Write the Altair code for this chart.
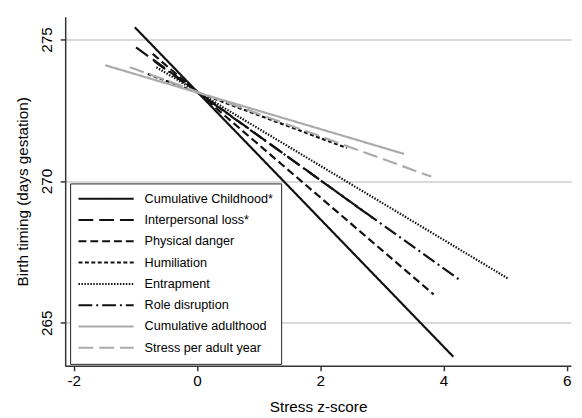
import altair as alt
import pandas as pd

series = ["Cumulative Childhood*", "Interpersonal loss*", "Physical danger", "Humiliation",
          "Entrapment", "Role disruption", "Cumulative adulthood", "Stress per adult year"]
x_start = [-1.01, -0.99, -0.72, -0.80, -0.66, -0.70, -1.49, -1.09]
y_start = [275.43, 274.72, 274.49, 273.78, 274.02, 274.24, 274.09, 274.02]
x_end = [4.16, 2.85, 3.84, 2.43, 5.04, 4.27, 3.36, 3.80]
y_end = [263.80, 268.70, 266.00, 271.17, 266.57, 266.50, 270.96, 270.16]

colors = ["#111111", "#111111", "#111111", "#111111", "#111111", "#111111", "#ababab", "#ababab"]
dashes = [[1, 0], [15, 6], [8, 4], [4, 2.5], [1.5, 1.5], [14, 4, 2, 4], [1, 0], [15, 6]]

rows = []
for i, s in enumerate(series):
    rows.append({"series": s, "order": 0, "x": x_start[i], "y": y_start[i]})
    rows.append({"series": s, "order": 1, "x": x_end[i], "y": y_end[i]})
df = pd.DataFrame(rows)

font = "Liberation Sans"

chart = alt.Chart(df).mark_line(strokeWidth=2.2, clip=True).encode(
    x=alt.X("x:Q", scale=alt.Scale(domain=[-2.14, 6.07], nice=False, zero=False),
            axis=alt.Axis(values=[-2, 0, 2, 4, 6], title="Stress z-score", grid=False,
                          labelExpr="'' + datum.value",
                          labelFontSize=15.5, titleFontSize=15.5, titleFontWeight="normal",
                          labelFont=font, titleFont=font, labelColor="black", titleColor="black",
                          domainColor="#333333", domainWidth=1.5, tickColor="#333333",
                          tickWidth=1.5, tickSize=5, labelPadding=3, titlePadding=11)),
    y=alt.Y("y:Q", scale=alt.Scale(domain=[263.48, 275.8], nice=False, zero=False),
            axis=alt.Axis(values=[265, 270, 275], title="Birth timing (days gestation)",
                          grid=True, gridColor="#d9d9d9", gridWidth=2,
                          labelAngle=270, labelAlign="center", labelBaseline="bottom",
                          labelFontSize=15.5, titleFontSize=15.5, titleFontWeight="normal",
                          labelFont=font, titleFont=font, labelColor="black", titleColor="black",
                          domainColor="#333333", domainWidth=1.5, tickColor="#333333",
                          tickWidth=1.5, tickSize=5, labelPadding=6, titlePadding=9)),
    color=alt.Color("series:N", scale=alt.Scale(domain=series, range=colors), title=None),
    strokeDash=alt.StrokeDash("series:N", scale=alt.Scale(domain=series, range=dashes), title=None),
    order="order:Q",
    detail="series:N",
).properties(
    width=513, height=354,
    autosize=alt.AutoSizeParams(type="none"),
    padding={"left": 58, "top": 6, "right": 3, "bottom": 50},
).configure_view(stroke=None).configure_legend(
    orient="none", legendX=5, legendY=169,
    strokeColor="#222222", fillColor="white", padding=7.5,
    symbolType="stroke", symbolSize=3136, symbolStrokeWidth=2,
    clipHeight=16, rowPadding=5.6, labelOffset=10,
    labelFont=font, labelFontSize=12.8, labelColor="black", labelLimit=300,
)

chart.save("out.html", embed_options={"renderer": "svg", "actions": False})
